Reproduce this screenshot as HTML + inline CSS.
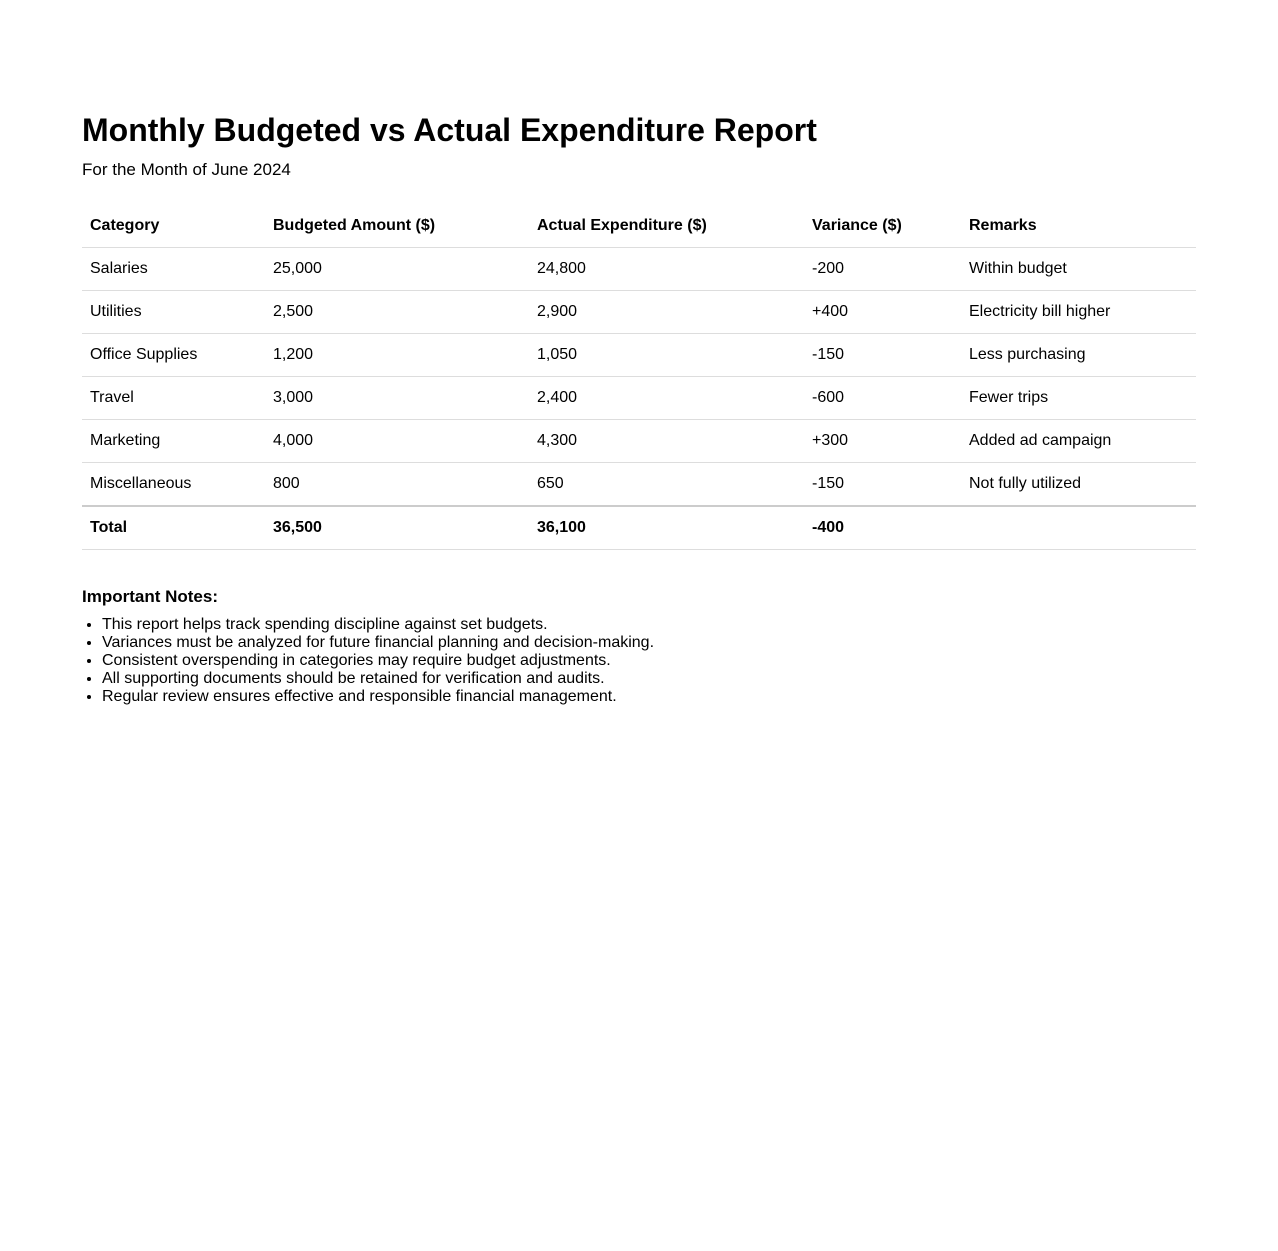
<!DOCTYPE html>
<html><head><meta charset="utf-8">
<style>
html,body{margin:0;padding:0;background:#fff;}
body{width:1278px;height:1251px;position:relative;font-family:"Liberation Sans",Arial,sans-serif;color:#000;}
h1{position:absolute;left:82px;top:111px;margin:0;font-size:32px;font-weight:bold;line-height:38px;}
.sub{position:absolute;left:82px;top:159px;margin:0;font-size:17px;line-height:21px;}
table{position:absolute;left:82px;top:205px;width:1114px;border-collapse:collapse;font-size:16px;}
th,td{text-align:left;padding:0 8px;height:42px;border-bottom:1px solid #ddd;vertical-align:middle;}
th{font-weight:bold;}
tr.total td{font-weight:bold;border-top:2px solid #ccc;}
.notes{position:absolute;left:82px;top:587px;}
.notes h3{margin:0;font-size:17px;line-height:20px;}
.notes ul{margin:9px 0 0 0;padding-left:20px;font-size:16px;line-height:18px;}
</style></head><body>
<h1>Monthly Budgeted vs Actual Expenditure Report</h1>
<p class="sub">For the Month of June 2024</p>
<table>
<colgroup><col style="width:183px"><col style="width:264px"><col style="width:275px"><col style="width:157px"><col style="width:235px"></colgroup>
<thead><tr>
<th>Category</th>
<th>Budgeted Amount ($)</th>
<th>Actual Expenditure ($)</th>
<th>Variance ($)</th>
<th>Remarks</th></tr></thead>
<tbody>
<tr><td>Salaries</td><td>25,000</td><td>24,800</td><td>-200</td><td>Within budget</td></tr>
<tr><td>Utilities</td><td>2,500</td><td>2,900</td><td>+400</td><td>Electricity bill higher</td></tr>
<tr><td>Office Supplies</td><td>1,200</td><td>1,050</td><td>-150</td><td>Less purchasing</td></tr>
<tr><td>Travel</td><td>3,000</td><td>2,400</td><td>-600</td><td>Fewer trips</td></tr>
<tr><td>Marketing</td><td>4,000</td><td>4,300</td><td>+300</td><td>Added ad campaign</td></tr>
<tr><td>Miscellaneous</td><td>800</td><td>650</td><td>-150</td><td>Not fully utilized</td></tr>
<tr class="total"><td>Total</td><td>36,500</td><td>36,100</td><td>-400</td><td></td></tr>
</tbody></table>
<div class="notes">
<h3>Important Notes:</h3>
<ul>
<li>This report helps track spending discipline against set budgets.</li>
<li>Variances must be analyzed for future financial planning and decision-making.</li>
<li>Consistent overspending in categories may require budget adjustments.</li>
<li>All supporting documents should be retained for verification and audits.</li>
<li>Regular review ensures effective and responsible financial management.</li>
</ul></div>
</body></html>
